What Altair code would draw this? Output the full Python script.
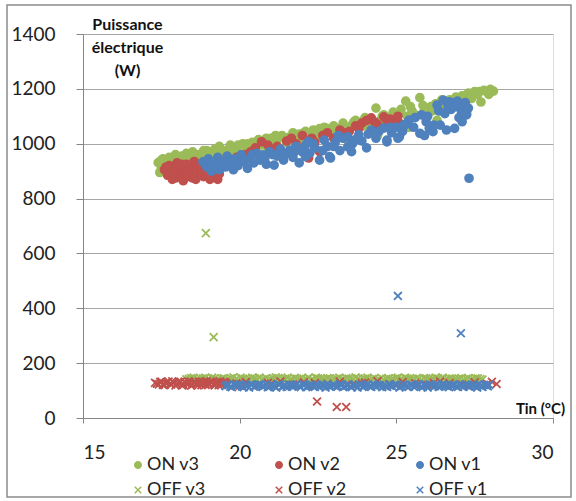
import altair as alt
import pandas as pd

SERIES = ["ON v3", "ON v2", "ON v1", "OFF v3", "OFF v2", "OFF v1"]
COLORS = ["#9BBB59", "#C0504D", "#4F81BD", "#9BBB59", "#C0504D", "#4F81BD"]
X_SHAPE = "M-1,-1L1,1M1,-1L-1,1"
SHAPES = ["circle", "circle", "circle", X_SHAPE, X_SHAPE, X_SHAPE]
X_TICKS = [15, 20, 25, 30]
Y_TICKS = [0, 200, 400, 600, 800, 1000, 1200, 1400]

# ON v3 (green dots)
on_v3_t = [17.4, 17.5, 17.55, 17.6, 17.7, 17.75, 17.8, 17.9, 17.95, 18.0, 18.1, 18.15, 18.2, 18.3, 18.35,
           18.45, 18.5, 18.6, 18.7, 18.75, 18.85, 18.9, 19.0, 19.1, 19.2, 19.3, 19.35, 19.45, 19.55, 19.6,
           19.7, 19.8, 19.9, 20.0, 20.1, 20.2, 20.3, 20.4, 20.5, 20.6, 20.7, 20.8, 20.9, 21.0, 21.1, 21.2,
           21.35, 21.5, 21.6, 21.7, 21.8, 21.9, 22.0, 22.1, 22.2, 22.35, 22.5, 22.6, 22.7, 22.85, 23.0, 23.1,
           23.2, 23.3, 23.45, 23.6, 23.7, 23.8, 23.9, 24.0, 24.1, 24.2, 24.35, 24.5, 24.6, 24.75, 24.9, 25.0,
           25.1, 25.3, 25.35, 25.5, 25.6, 25.75, 25.9, 26.0, 26.1, 26.25, 26.4, 26.5, 26.6, 26.7, 26.8, 26.9,
           27.0, 27.1, 27.2, 27.3, 27.4, 27.5, 27.6, 27.7, 27.8, 27.9, 28.0, 28.1,
           17.45, 18.05, 18.6, 19.4, 20.3, 21.3, 22.4, 23.5, 24.4, 25.4, 26.3, 27.25,
           17.5, 17.85, 18.25, 18.55, 18.95, 19.25, 19.65, 19.95, 20.25, 20.55, 20.85, 21.15, 21.45, 21.75,
           22.05, 22.3, 22.55, 22.8, 23.05, 23.35, 23.65, 23.95, 24.25, 24.55, 24.85, 25.15, 25.45, 25.85,
           26.15, 26.45, 26.75, 27.05, 27.35, 27.65, 27.95]
on_v3_p = [931, 910, 945, 925, 898, 950, 930, 905, 960, 940, 915, 955, 935, 965, 920,
           950, 970, 940, 960, 925, 975, 950, 965, 940, 980, 955, 990, 965, 975, 945,
           995, 970, 985, 960, 1000, 975, 990, 1005, 980, 1015, 995, 1010, 985, 1020, 1000, 1015,
           1030, 1005, 1025, 1040, 1015, 1035, 1020, 1045, 1030, 1050, 1025, 1040, 1060, 1045, 1065, 1040,
           1055, 1075, 1050, 1070, 1085, 1060, 1080, 1095, 1070, 1090, 1130, 1085, 1105, 1095, 1115, 1090,
           1110, 1155, 1100, 1120, 1105, 1168, 1125, 1110, 1135, 1145, 1120, 1150, 1135, 1160, 1140, 1170,
           1150, 1175, 1155, 1185, 1165, 1190, 1180, 1152, 1195, 1188, 1198, 1192,
           895, 880, 905, 920, 945, 960, 985, 1005, 1030, 1060, 1085, 1110,
           940, 945, 950, 955, 975, 970, 980, 995, 1000, 1000, 1020, 1030, 1020, 1025,
           1040, 1035, 1055, 1055, 1050, 1060, 1080, 1065, 1080, 1100, 1100, 1125, 1135, 1140,
           1120, 1160, 1145, 1165, 1170, 1190, 1180]

# ON v2 (red dots)
on_v2_t = [17.6, 17.7, 17.75, 17.85, 17.9, 18.0, 18.05, 18.1, 18.2, 18.25, 18.3, 18.4, 18.45, 18.55, 18.6,
           18.7, 18.75, 18.85, 18.9, 19.0, 19.05, 19.1, 19.2, 19.25, 19.35,
           19.6, 19.9, 20.2, 20.5, 20.7, 20.9, 21.2, 21.5, 21.8, 22.0, 22.2, 22.4, 22.55, 22.8, 23.0, 23.2,
           23.5, 23.7, 23.9, 24.05, 24.2, 24.4, 24.6, 24.8, 25.0, 24.9, 25.1,
           17.65, 17.8, 17.95, 18.15, 18.35, 18.5, 18.65, 18.8, 18.95, 19.15, 19.3, 20.0, 20.35, 21.0,
           21.65, 22.3, 22.65, 23.35, 23.8, 24.3, 24.7, 25.05]
on_v2_p = [905, 885, 920, 870, 900, 930, 880, 910, 865, 895, 925, 880, 905, 935, 870,
           895, 915, 880, 905, 925, 870, 895, 880, 910, 890,
           930, 950, 960, 985, 1007, 995, 990, 1010, 1000, 1030, 948, 1005, 971, 1040, 1020, 1050,
           1045, 1065, 1075, 1085, 1094, 1070, 1098, 1090, 1086, 1068, 1075,
           915, 895, 875, 925, 900, 875, 925, 900, 890, 915, 870, 940, 970, 980,
           1020, 1020, 1030, 1040, 1055, 1080, 1085, 1100]

# ON v1 (blue dots)
on_v1_t = [18.83, 18.95, 19.0, 19.1, 19.2, 19.3, 19.35, 19.45, 19.55, 19.6, 19.7, 19.8, 19.85, 19.95,
           20.05, 20.15, 20.25, 20.35, 20.45, 20.55, 20.65, 20.74, 20.85, 20.95, 21.1, 21.2, 21.3, 21.4,
           21.5, 21.6, 21.7, 21.8, 21.9, 22.0, 22.1, 22.2, 22.24, 22.4, 22.55, 22.7, 22.8, 22.9, 23.05,
           23.2, 23.3, 23.45, 23.45, 23.6, 23.8, 23.9, 24.05, 24.2, 24.35, 24.6, 24.7, 24.85, 25.0, 25.1,
           25.2, 25.4, 25.55, 25.75, 25.8, 25.95, 26.05, 26.2, 26.3, 26.4, 26.5, 26.55, 26.7, 26.75, 26.8,
           26.86, 26.9, 27.0, 27.08, 27.15, 27.24, 27.3, 27.32,
           22.1, 22.87, 23.57, 24.7, 25.05, 25.3, 25.9, 26.17, 26.6,
           19.05, 19.4, 19.75, 20.1, 20.4, 20.8, 21.05, 21.35, 21.75, 22.05, 22.35, 22.65, 23.0, 23.15,
           23.7, 24.1, 24.45, 24.8, 25.25, 25.6, 26.0, 26.35, 26.65, 26.95, 27.2, 27.1]
on_v1_p = [934, 915, 945, 900, 925, 950, 905, 935, 915, 955, 930, 905, 945, 920,
           960, 935, 910, 950, 930, 965, 940, 959, 925, 970, 922, 955, 980, 940,
           965, 977, 950, 990, 930, 970, 995, 1008, 966, 985, 940, 1013, 990, 948, 1005,
           975, 1020, 1025, 989, 1000, 1032, 1010, 985, 1050, 1020, 1057, 1007, 1040, 1060, 1025,
           1045, 1086, 1060, 1038, 1105, 1080, 1056, 1068, 1141, 1068, 1159, 1110, 1153, 1125, 1148,
           1056, 1135, 1095, 1117, 1140, 1105, 1130, 874,
           953, 953, 971, 1013, 1020, 1070, 1030, 1044, 1050,
           925, 920, 940, 945, 960, 945, 960, 955, 970, 985, 1000, 975, 990, 1030,
           1015, 1035, 1045, 1060, 1070, 1095, 1100, 1120, 1135, 1155, 1150, 1080]

# OFF v3 (green crosses)
off_v3_t = [18.3, 18.45, 18.6, 18.75, 18.9, 18.92, 19.05, 19.17, 19.2, 19.35, 19.5, 19.65, 19.8, 19.95,
            20.1, 20.25, 20.4, 20.55, 20.7, 20.85, 21.0, 21.15, 21.3, 21.45, 21.6, 21.75, 21.9, 22.05,
            22.2, 22.35, 22.5, 22.65, 22.8, 22.95, 23.1, 23.25, 23.4, 23.55, 23.7, 23.85, 24.0, 24.15,
            24.3, 24.45, 24.6, 24.75, 24.9, 25.05, 25.2, 25.35, 25.5, 25.65, 25.8, 25.95, 26.1, 26.25,
            26.4, 26.55, 26.7, 26.85, 27.0, 27.15, 27.3, 27.45, 27.6, 27.75,
            18.38, 18.53, 18.68, 18.83, 18.98, 19.12, 19.28, 19.43, 19.58, 19.72, 19.88, 20.03, 20.18,
            20.33, 20.48, 20.63, 20.78, 20.93, 21.08, 21.23, 21.38, 21.53, 21.68, 21.83, 21.98, 22.13,
            22.28, 22.43, 22.58, 22.73, 22.88, 23.03, 23.18, 23.33, 23.48, 23.63, 23.78, 23.93, 24.08,
            24.23, 24.38, 24.53, 24.68, 24.83, 24.98, 25.13, 25.28, 25.43, 25.58, 25.73, 25.88, 26.03,
            26.18, 26.33, 26.48, 26.63, 26.78, 26.93, 27.08, 27.23, 27.38, 27.53, 27.68]
off_v3_p = [141, 146, 139, 144, 147, 674, 140, 295, 145, 139, 146, 142, 148, 139,
            144, 140, 147, 142, 139, 146, 141, 148, 140, 144, 139, 146, 142, 140,
            147, 139, 145, 141, 146, 139, 144, 140, 146, 142, 148, 139, 144, 140,
            146, 141, 139, 145, 142, 147, 140, 144, 141, 146, 139, 145, 140, 147,
            142, 139, 145, 141, 144, 140, 146, 142, 145, 140,
            143, 147, 141, 145, 142, 147, 141, 144, 140, 145, 142, 147, 143,
            141, 145, 147, 142, 140, 144, 146, 142, 147, 141, 144, 146, 142,
            140, 147, 143, 141, 145, 142, 147, 141, 144, 140, 145, 143, 147,
            142, 140, 146, 143, 141, 145, 142, 147, 143, 140, 144, 146, 142,
            141, 145, 147, 142, 144, 141, 146, 143, 140, 145, 142]

# OFF v2 (red crosses)
off_v2_t = [17.3, 17.42, 17.5, 17.6, 17.68, 17.78, 17.85, 17.95, 18.03, 18.12, 18.2, 18.28, 18.37, 18.45,
            18.53, 18.62, 18.7, 18.78, 18.87, 18.95, 19.03, 19.12, 19.2, 19.28, 19.37, 19.45, 19.55, 19.62,
            19.9, 20.2, 20.6, 20.9, 21.3, 21.7, 22.05, 22.4, 22.47, 22.8, 23.1, 23.2, 23.4, 23.6, 24.0,
            24.4, 24.8, 25.2, 25.6, 26.0, 26.4, 26.7, 27.1, 27.5, 27.9, 28.05, 28.2,
            17.36, 17.46, 17.55, 17.64, 17.73, 17.82, 17.9, 17.99, 18.08, 18.16, 18.24, 18.33, 18.41,
            18.49, 18.58, 18.66, 18.74, 18.83, 18.91, 18.99, 19.08, 19.16, 19.24, 19.33, 19.41, 19.5,
            19.58, 20.0, 21.0, 22.2, 23.9, 25.0, 26.2, 27.3]
off_v2_p = [128, 122, 133, 120, 130, 125, 134, 119, 128, 132, 121, 127, 134, 118,
            129, 124, 133, 120, 128, 134, 122, 130, 119, 127, 133, 123, 129, 121,
            126, 131, 120, 128, 133, 122, 130, 127, 60, 125, 40, 132, 40, 121, 129,
            134, 123, 131, 126, 120, 133, 127, 122, 130, 125, 132, 124,
            125, 131, 121, 127, 133, 122, 129, 124, 131, 119, 133, 124, 129,
            122, 132, 119, 127, 131, 121, 126, 133, 124, 129, 120, 127, 132,
            125, 118, 125, 119, 127, 120, 128, 118]

# OFF v1 (blue crosses)
off_v1_t = [19.55, 19.65, 19.75, 19.86, 19.97, 20.08, 20.18, 20.3, 20.4, 20.5, 20.62, 20.73, 20.84, 20.95,
            21.06, 21.17, 21.28, 21.4, 21.5, 21.62, 21.73, 21.84, 21.95, 22.07, 22.18, 22.3, 22.4, 22.52,
            22.63, 22.74, 22.86, 22.97, 23.08, 23.2, 23.3, 23.42, 23.53, 23.64, 23.76, 23.87, 23.98, 24.1,
            24.2, 24.32, 24.43, 24.55, 24.66, 24.77, 24.88, 25.0, 25.05, 25.1, 25.22, 25.33, 25.45, 25.56,
            25.67, 25.78, 25.9, 26.0, 26.12, 26.23, 26.35, 26.46, 26.57, 26.68, 26.8, 26.91, 27.02, 27.06,
            27.14, 27.25, 27.36, 27.47, 27.58, 27.7, 27.8, 27.92,
            19.6, 19.7, 19.81, 19.92, 20.03, 20.13, 20.24, 20.35, 20.45, 20.56, 20.68, 20.78, 20.9, 21.0,
            21.11, 21.23, 21.34, 21.45, 21.56, 21.67, 21.78, 21.9, 22.01, 22.12, 22.24, 22.35, 22.46,
            22.57, 22.68, 22.8, 22.91, 23.02, 23.14, 23.25, 23.36, 23.47, 23.58, 23.7, 23.81, 23.92,
            24.04, 24.15, 24.26, 24.37, 24.49, 24.6, 24.71, 24.82, 24.94, 25.16, 25.27, 25.39, 25.5,
            25.62, 25.73, 25.84, 25.95, 26.06, 26.18, 26.29, 26.4, 26.52, 26.63, 26.74, 26.86, 26.97,
            27.08, 27.2, 27.31, 27.42, 27.53, 27.64, 27.75, 27.86, 27.96]
off_v1_p = [116, 121, 112, 119, 123, 114, 120, 111, 122, 116, 121, 113, 123, 115,
            119, 111, 122, 117, 113, 121, 116, 123, 112, 120, 115, 122, 113, 118,
            121, 111, 116, 120, 114, 123, 112, 119, 115, 121, 111, 120, 116, 122,
            113, 118, 121, 112, 116, 123, 115, 119, 445, 111, 122, 116, 120, 113,
            123, 115, 119, 111, 121, 116, 113, 122, 118, 112, 120, 115, 123, 309,
            113, 119, 116, 121, 111, 117, 121, 115,
            121, 114, 123, 117, 121, 112, 118, 123, 114, 119, 122, 117, 112, 121,
            116, 123, 113, 119, 122, 114, 120, 117, 123, 112, 119, 116, 122,
            113, 118, 123, 114, 119, 116, 121, 115, 123, 112, 118, 122, 113,
            120, 117, 123, 114, 119, 121, 113, 118, 122, 116, 120, 113, 121,
            117, 122, 112, 119, 123, 114, 120, 117, 122, 115, 119, 121, 113,
            118, 122, 114, 120, 117, 123, 113, 119, 121]

rows = []
for name, ts, ps in [("ON v3", on_v3_t, on_v3_p), ("ON v2", on_v2_t, on_v2_p), ("ON v1", on_v1_t, on_v1_p),
                     ("OFF v3", off_v3_t, off_v3_p), ("OFF v2", off_v2_t, off_v2_p), ("OFF v1", off_v1_t, off_v1_p)]:
    for t, p in zip(ts, ps):
        rows.append({"series": name, "t": t, "p": p})
df = pd.DataFrame(rows)

FONT = "Lato"
color_scale = alt.Scale(domain=SERIES, range=COLORS)
shape_scale = alt.Scale(domain=SERIES, range=SHAPES)
legend = alt.Legend(title=None, orient="none", legendX=46, legendY=422, direction="horizontal",
                    columns=3, columnPadding=63, rowPadding=7, symbolSize=42, symbolStrokeWidth=1.5,
                    labelFont=FONT, labelFontSize=18, labelColor="#222222", labelOffset=0, padding=0)

points = alt.Chart(df).mark_point(filled=True, size=62, strokeWidth=1.8, opacity=1).encode(
    x=alt.X("t:Q", scale=alt.Scale(domain=[15, 30], nice=False, zero=False),
            axis=alt.Axis(values=X_TICKS, title="Tin (°C)", grid=False, domainColor="#868686",
                          tickColor="#868686", tickSize=5, labelPadding=20, labelFont=FONT, labelFontSize=19,
                          labelColor="#222222", titleFont=FONT, titleFontSize=15, titleFontWeight="bold",
                          titleColor="#111111", titleX=457, titleY=-10, titleAlign="center",
                          titleBaseline="middle", titleAngle=0)),
    y=alt.Y("p:Q", scale=alt.Scale(domain=[0, 1400], nice=False),
            axis=alt.Axis(values=Y_TICKS, format="d", title=["Puissance", "électrique", "(W)"], grid=True,
                          gridColor="#A6A6A6", gridWidth=1.2, domainColor="#868686", tickColor="#868686",
                          tickSize=7, labelPadding=21, labelFont=FONT, labelFontSize=19, labelColor="#222222",
                          titleFont=FONT, titleFontSize=16, titleFontWeight="bold", titleColor="#111111",
                          titleX=44, titleY=-18, titleAlign="center", titleBaseline="top", titleAngle=0,
                          titleLineHeight=23)),
    fill=alt.Fill("series:N", scale=color_scale, legend=legend),
    stroke=alt.Stroke("series:N", scale=color_scale, legend=legend),
    shape=alt.Shape("series:N", scale=shape_scale, legend=legend),
)

border = alt.Chart(pd.DataFrame({"k": [0]})).mark_rect(
    fillOpacity=0, stroke="#8C8C8C", strokeWidth=1.5
).encode(x=alt.value(-76), x2=alt.value(488), y=alt.value(-29), y2=alt.value(463))

chart = alt.layer(border, points).properties(
    width=470, height=384,
    autosize=alt.AutoSizeParams(type="none"),
    padding={"left": 83, "top": 34, "right": 23, "bottom": 83},
).configure_view(strokeWidth=0).configure(background="white")

chart.save("out.html", embed_options={"renderer": "svg", "actions": False})
